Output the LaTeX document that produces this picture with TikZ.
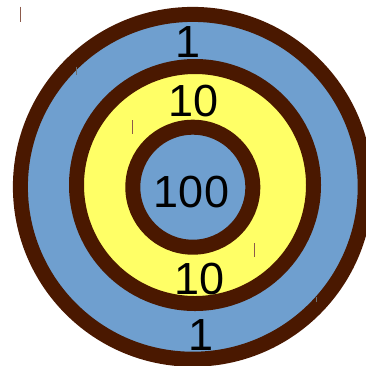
\documentclass[tikz,border=0pt]{standalone}
\usepackage{fontspec}
\setmainfont{Liberation Sans}
\definecolor{ringbrown}{RGB}{74,24,0}
\definecolor{ringblue}{RGB}{111,159,207}
\definecolor{ringyellow}{RGB}{255,255,102}
\definecolor{markbrown}{RGB}{140,90,75}
\definecolor{markgray}{RGB}{110,110,110}
\begin{document}
\begin{tikzpicture}[x=1pt,y=-1pt,
  ring/.style={draw=ringbrown,line width=15pt},
  score/.style={anchor=base,inner sep=0pt,font=\fontsize{45}{45}\selectfont,text=black},
  strokemark/.style={line width=1pt}]
\useasboundingbox (0,0) rectangle (366,365);
\clip (0,0) rectangle (366,365);
\fill[white] (0,0) rectangle (366,365);
% rings
\filldraw[ring,fill=ringblue] (192.8,186.8) circle[radius=172.4pt];
\filldraw[ring,fill=ringyellow] (195,185) circle[radius=118.5pt];
\filldraw[ring,fill=ringblue] (192.8,187.2) circle[radius=60pt];
% scores
\node[score] (outerTop) at (188.4,57) {1};
\node[score] (midTop) at (193.5,116.5) {10};
\node[score] (center) at (191.5,207) {100};
\node[score] (midBottom) at (200,294.5) {10};
\node[score] (outerBottom) at (201.5,350.5) {1};
% stray marks
\draw[strokemark,markbrown] (20.7,6.5) -- (20.7,21.5);
\draw[strokemark,markgray] (76,66.7) -- (76,74.5);
\draw[strokemark,markbrown] (132.3,120) -- (132.3,134);
\draw[strokemark,markbrown] (254.5,243) -- (254.5,257);
\draw[strokemark,markgray] (316,297) -- (316,302);
\end{tikzpicture}
\end{document}
